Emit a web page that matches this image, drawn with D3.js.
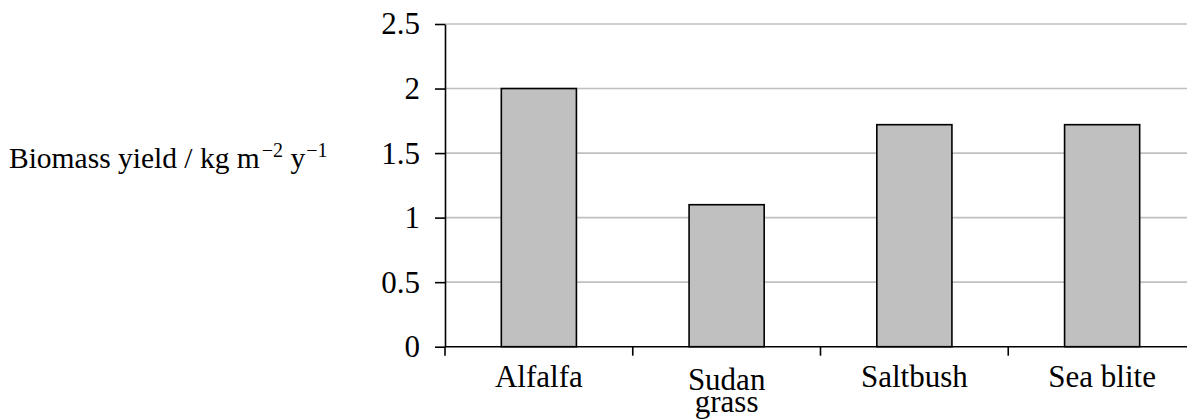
<!DOCTYPE html>
<html>
<head>
<meta charset="utf-8">
<script src="https://cdn.jsdelivr.net/npm/d3@7"></script>
<style>
  html, body { margin: 0; padding: 0; background: #fff; }
  svg { display: block; }
</style>
</head>
<body>
<svg id="chart" width="1187" height="420"></svg>
<script>
// Biomass yield of four crops
const categories = ["Alfalfa", "Sudan grass", "Saltbush", "Sea blite"];
const categoryLines = [["Alfalfa"], ["Sudan", "grass"], ["Saltbush"], ["Sea blite"]];
const yieldValues = [2.0, 1.1, 1.72, 1.72];
const yTickValues = [0, 0.5, 1, 1.5, 2, 2.5];
const yTickLabels = ["0", "0.5", "1", "1.5", "2", "2.5"];

const FONT = "'Liberation Serif', 'Times New Roman', serif";
const svg = d3.select("#chart");
const W = 1187;
const plotLeft = 445, plotRight = 1196, plotTop = 24, plotBottom = 346.7;

const slots = d3.scaleBand().domain(categories).range([plotLeft, plotRight]).padding(0);
const y = d3.scaleLinear().domain([0, 2.5]).range([plotBottom, plotTop]);

// horizontal gridlines
svg.append("g")
  .selectAll("line")
  .data(yTickValues.filter(v => v > 0))
  .join("line")
  .attr("x1", plotLeft).attr("x2", W)
  .attr("y1", d => y(d)).attr("y2", d => y(d))
  .attr("stroke", "#c0c0c0").attr("stroke-width", 1.6);

// bars
const barFrac = 0.4;
svg.append("g")
  .selectAll("rect")
  .data(categories)
  .join("rect")
  .attr("x", d => slots(d) + slots.bandwidth() * (1 - barFrac) / 2)
  .attr("width", slots.bandwidth() * barFrac)
  .attr("y", (d, i) => y(yieldValues[i]))
  .attr("height", (d, i) => y(0) - y(yieldValues[i]))
  .attr("fill", "#c0c0c0")
  .attr("stroke", "#000")
  .attr("stroke-width", 1.6);

// y axis
const yAxis = d3.axisLeft(y)
  .tickValues(yTickValues)
  .tickFormat((d, i) => yTickLabels[i])
  .tickSize(10)
  .tickPadding(15)
  .tickSizeOuter(0);
const gy = svg.append("g").attr("transform", `translate(${plotLeft},0)`).call(yAxis);
gy.attr("font-family", null).attr("font-size", null);
gy.selectAll("path, line").attr("stroke", "#000").attr("stroke-width", 1.6);
gy.selectAll("text").style("font-size", "31px").style("font-family", FONT).attr("fill", "#000");

// x axis baseline
svg.append("line")
  .attr("x1", plotLeft).attr("x2", W)
  .attr("y1", y(0)).attr("y2", y(0))
  .attr("stroke", "#000").attr("stroke-width", 1.6);

// category boundary ticks
svg.append("g")
  .selectAll("line")
  .data(categories)
  .join("line")
  .attr("x1", d => slots(d)).attr("x2", d => slots(d))
  .attr("y1", y(0)).attr("y2", y(0) + 9)
  .attr("stroke", "#000").attr("stroke-width", 1.6);

// category labels (one text per line)
const labelRows = [];
categories.forEach((c, i) => {
  const cx = slots(c) + slots.bandwidth() / 2;
  const lines = categoryLines[i];
  lines.forEach((ln, j) => {
    labelRows.push({ text: ln, x: cx, y: (lines.length > 1 ? 389.5 : 386.7) + j * 22.5 });
  });
});
svg.append("g")
  .selectAll("text")
  .data(labelRows)
  .join("text")
  .attr("text-anchor", "middle")
  .style("font-family", FONT)
  .style("font-size", "31px")
  .attr("fill", "#000")
  .attr("x", d => d.x)
  .attr("y", d => d.y)
  .text(d => d.text);

// y axis title
const title = svg.append("text")
  .attr("x", 9).attr("y", 168.3)
  .style("font-family", FONT)
  .style("font-size", "29.5px")
  .attr("fill", "#000");
title.append("tspan").text("Biomass yield / kg m");
title.append("tspan").attr("dx", 2).attr("dy", -11).style("font-size", "20px").text("\u22122");
title.append("tspan").attr("dy", 11).text(" y");
title.append("tspan").attr("dx", 1).attr("dy", -11).style("font-size", "20px").text("\u22121");
</script>
</body>
</html>
